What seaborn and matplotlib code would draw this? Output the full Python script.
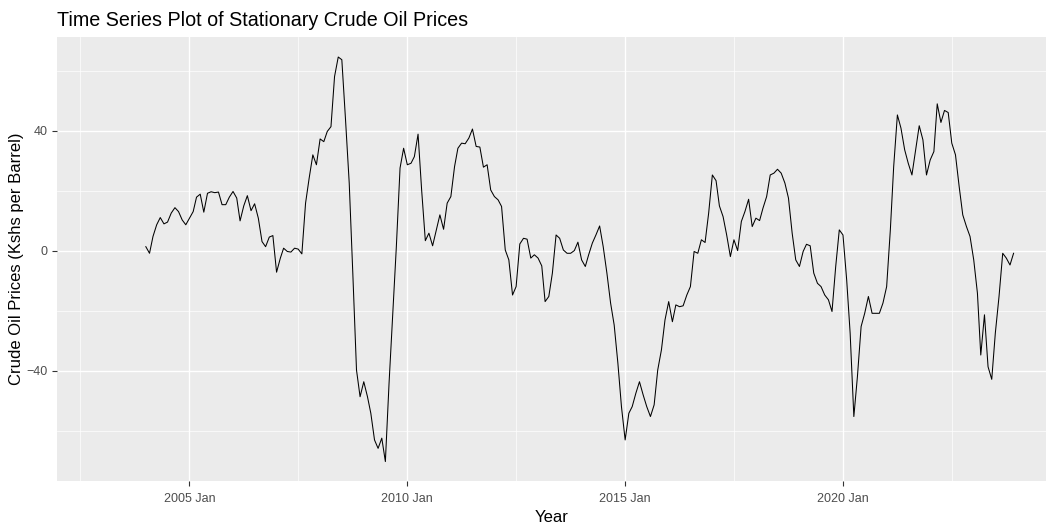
import pandas as pd
import numpy as np
import matplotlib
matplotlib.use("Agg")
import matplotlib.pyplot as plt
import matplotlib.dates as mdates
import seaborn as sns

# ==========================
# DATA (monthly, 2004 Jan - 2023 Dec)
# ==========================

start_month = "2004-01-01"

prices = [
    1.4, -0.8, 4.8, 8.7, 11.1, 9.0, 9.6, 12.6, 14.4, 13.1, 10.3, 8.7,            # 2004
    10.9, 13.1, 17.9, 18.9, 12.9, 19.2, 19.7, 19.4, 19.6, 15.4, 15.4, 17.9,      # 2005
    19.8, 17.6, 10.0, 15.0, 18.4, 13.4, 15.7, 10.9, 3.1, 1.4, 4.6, 5.1,          # 2006
    -7.1, -2.5, 0.9, -0.2, -0.4, 0.9, 0.6, -1.0, 15.9, 24.2, 32.0, 28.7,         # 2007
    37.3, 36.4, 39.8, 41.4, 58.1, 64.6, 63.7, 43.7, 22.6, -7.4, -39.7, -48.6,    # 2008
    -43.6, -48.6, -54.1, -63.0, -65.8, -62.4, -70.2, -44.0, -20.8, 1.4, 27.6, 34.2,  # 2009
    28.7, 29.2, 31.4, 38.9, 20.3, 3.4, 5.9, 1.7, 7.0, 12.0, 7.2, 15.9,           # 2010
    18.1, 28.1, 34.2, 35.9, 35.7, 37.6, 40.6, 34.8, 34.6, 27.9, 28.7, 20.3,      # 2011
    18.1, 17.0, 14.8, 0.3, -3.0, -14.7, -11.9, 2.3, 4.2, 3.9, -2.4, -1.3,        # 2012
    -2.4, -5.0, -16.9, -15.2, -7.4, 5.3, 4.2, 0.3, -0.8, -0.8, 0.1, 2.9,         # 2013
    -3.0, -5.2, -1.3, 2.6, 5.3, 8.3, 1.4, -7.4, -17.4, -24.7, -37.4, -51.9,      # 2014
    -63.0, -54.1, -51.9, -47.4, -43.6, -48.0, -51.9, -55.2, -51.3, -39.7, -33.0, -23.0,  # 2015
    -16.9, -23.6, -18.0, -18.6, -18.3, -14.7, -11.9, -0.2, -0.8, 3.7, 2.8, 12.6,  # 2016
    25.3, 23.4, 15.0, 11.4, 5.3, -1.9, 3.7, 0.1, 9.8, 13.1, 17.2, 8.1,           # 2017
    10.9, 10.1, 14.2, 18.1, 25.3, 25.9, 27.2, 25.9, 22.6, 17.6, 5.9, -3.0,       # 2018
    -5.2, -0.2, 2.2, 1.7, -7.4, -10.8, -11.9, -14.7, -16.3, -20.2, -5.2, 7.0,    # 2019
    5.3, -9.7, -27.4, -55.2, -41.9, -25.2, -20.8, -15.2, -20.8, -20.8, -20.8, -17.4,  # 2020
    -11.9, 7.0, 28.1, 45.3, 40.9, 33.7, 29.2, 25.3, 33.7, 41.7, 37.0, 25.3,      # 2021
    30.3, 33.1, 49.0, 42.8, 46.8, 46.1, 35.9, 32.0, 21.4, 12.0, 8.1, 4.8,        # 2022
    -3.0, -14.1, -34.7, -21.3, -38.6, -42.8, -27.4, -15.2, -0.8, -2.4, -4.7, -0.8,  # 2023
]

df = pd.DataFrame({
    "Month": pd.date_range(start_month, periods=len(prices), freq="MS"),
    "Price": prices,
})

# ==========================
# PLOT (ggplot-like grey theme)
# ==========================

plt.rcParams["font.family"] = ["Liberation Sans", "DejaVu Sans"]

fig = plt.figure(figsize=(10.48, 5.26), dpi=100)
ax = fig.add_axes([0.054, 0.0856, 0.944, 0.8444])

sns.lineplot(data=df, x="Month", y="Price", color="black", linewidth=0.75, ax=ax)

ax.set_facecolor("#EBEBEB")
for s in ax.spines.values():
    s.set_visible(False)

ax.set_xlim(pd.Timestamp("2001-12-14"), pd.Timestamp("2024-08-28"))
ax.set_ylim(-76.67, 71.33)

ax.xaxis.set_major_locator(mdates.YearLocator(5, month=1, day=1))
ax.xaxis.set_major_formatter(mdates.DateFormatter("%Y %b"))
minor_dates = pd.to_datetime(["2002-07-02", "2007-07-02", "2012-07-02", "2017-07-02", "2022-07-02"])
ax.set_xticks(mdates.date2num(minor_dates), minor=True)
ax.set_yticks([-40, 0, 40])
ax.set_yticks([-60, -20, 20, 60], minor=True)

ax.grid(which="major", color="white", linewidth=1.0)
ax.grid(which="minor", color="white", linewidth=0.5)
ax.set_axisbelow(True)

ax.tick_params(which="major", length=3.5, width=0.8, color="#333333",
               labelcolor="#4D4D4D", labelsize=9, pad=3)
ax.tick_params(axis="x", which="major", pad=5)
ax.tick_params(which="minor", length=0)

ax.set_xlabel("Year", fontsize=12, color="black", labelpad=4)
ax.set_ylabel("Crude Oil Prices (Kshs per Barrel)", fontsize=12, color="black", labelpad=2)
ax.set_title("Time Series Plot of Stationary Crude Oil Prices", fontsize=14.2,
             loc="left", pad=8, color="black")

fig.savefig("out.png", dpi=100, facecolor="white")
